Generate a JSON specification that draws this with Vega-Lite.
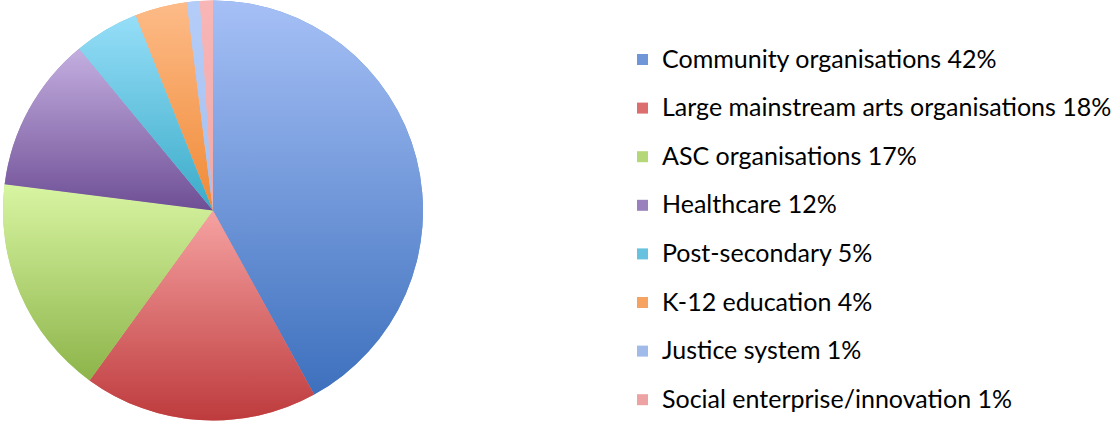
{
  "$schema": "https://vega.github.io/schema/vega-lite/v6.json",
  "width": 426,
  "height": 421,
  "padding": 0,
  "background": "white",
  "config": {"view": {"stroke": null}},
  "data": {"values": [
    {"cat": "Community organisations 42%", "value": 42, "o": 1},
    {"cat": "Large mainstream arts organisations 18%", "value": 18, "o": 2},
    {"cat": "ASC organisations 17%", "value": 17, "o": 3},
    {"cat": "Healthcare 12%", "value": 12, "o": 4},
    {"cat": "Post-secondary 5%", "value": 5, "o": 5},
    {"cat": "K-12 education 4%", "value": 4, "o": 6},
    {"cat": "Justice system 1%", "value": 1, "o": 7},
    {"cat": "Social enterprise/innovation 1%", "value": 1, "o": 8}
  ]},
  "encoding": {
    "theta": {"field": "value", "type": "quantitative", "stack": true},
    "order": {"field": "o", "type": "quantitative"}
  },
  "layer": [
    {
      "mark": {"type": "arc", "outerRadius": 210},
      "encoding": {
        "color": {
          "field": "cat", "type": "nominal",
          "scale": {
            "domain": ["Community organisations 42%", "Large mainstream arts organisations 18%", "ASC organisations 17%", "Healthcare 12%", "Post-secondary 5%", "K-12 education 4%", "Justice system 1%", "Social enterprise/innovation 1%"],
            "range": ["#6f96d8", "#dc6e70", "#b4d878", "#9a80bc", "#66c2df", "#f6a260", "#a0baea", "#eda3a3"]
          },
          "legend": {
            "title": null,
            "orient": "none",
            "legendX": 630,
            "legendY": 47,
            "symbolType": "square",
            "symbolSize": 121,
            "symbolStrokeWidth": 0,
            "labelFont": "Lato",
            "labelFontSize": 25,
            "labelColor": "#000000",
            "labelOffset": 7,
            "labelLimit": 600,
            "rowPadding": 22.6
          }
        }
      }
    },
    {
      "mark": {"type": "arc", "outerRadius": 210},
      "encoding": {
        "fill": {
          "condition": [
            {"test": "datum.o === 1", "value": {"gradient": "linear", "x1": 0, "y1": 0, "x2": 0, "y2": 1, "stops": [{"offset": 0, "color": "#a6c0f6"}, {"offset": 1, "color": "#3d70bd"}]}},
            {"test": "datum.o === 2", "value": {"gradient": "linear", "x1": 0, "y1": 0, "x2": 0, "y2": 1, "stops": [{"offset": 0, "color": "#f6a2a2"}, {"offset": 1, "color": "#be3b3d"}]}},
            {"test": "datum.o === 3", "value": {"gradient": "linear", "x1": 0, "y1": 0, "x2": 0, "y2": 1, "stops": [{"offset": 0, "color": "#d8f5a2"}, {"offset": 1, "color": "#8db44a"}]}},
            {"test": "datum.o === 4", "value": {"gradient": "linear", "x1": 0, "y1": 0, "x2": 0, "y2": 1, "stops": [{"offset": 0, "color": "#c4afe0"}, {"offset": 1, "color": "#6e4e95"}]}},
            {"test": "datum.o === 5", "value": {"gradient": "linear", "x1": 0, "y1": 0, "x2": 0, "y2": 1, "stops": [{"offset": 0, "color": "#96def8"}, {"offset": 1, "color": "#3aabc8"}]}},
            {"test": "datum.o === 6", "value": {"gradient": "linear", "x1": 0, "y1": 0, "x2": 0, "y2": 1, "stops": [{"offset": 0, "color": "#fdbb88"}, {"offset": 1, "color": "#f08a36"}]}},
            {"test": "datum.o === 7", "value": {"gradient": "linear", "x1": 0, "y1": 0, "x2": 0, "y2": 1, "stops": [{"offset": 0, "color": "#b4cdf8"}, {"offset": 1, "color": "#a6c0f0"}]}},
            {"test": "datum.o === 8", "value": {"gradient": "linear", "x1": 0, "y1": 0, "x2": 0, "y2": 1, "stops": [{"offset": 0, "color": "#f8b6b6"}, {"offset": 1, "color": "#f0a8a8"}]}}
          ],
          "value": "#cccccc"
        }
      }
    }
  ]
}
